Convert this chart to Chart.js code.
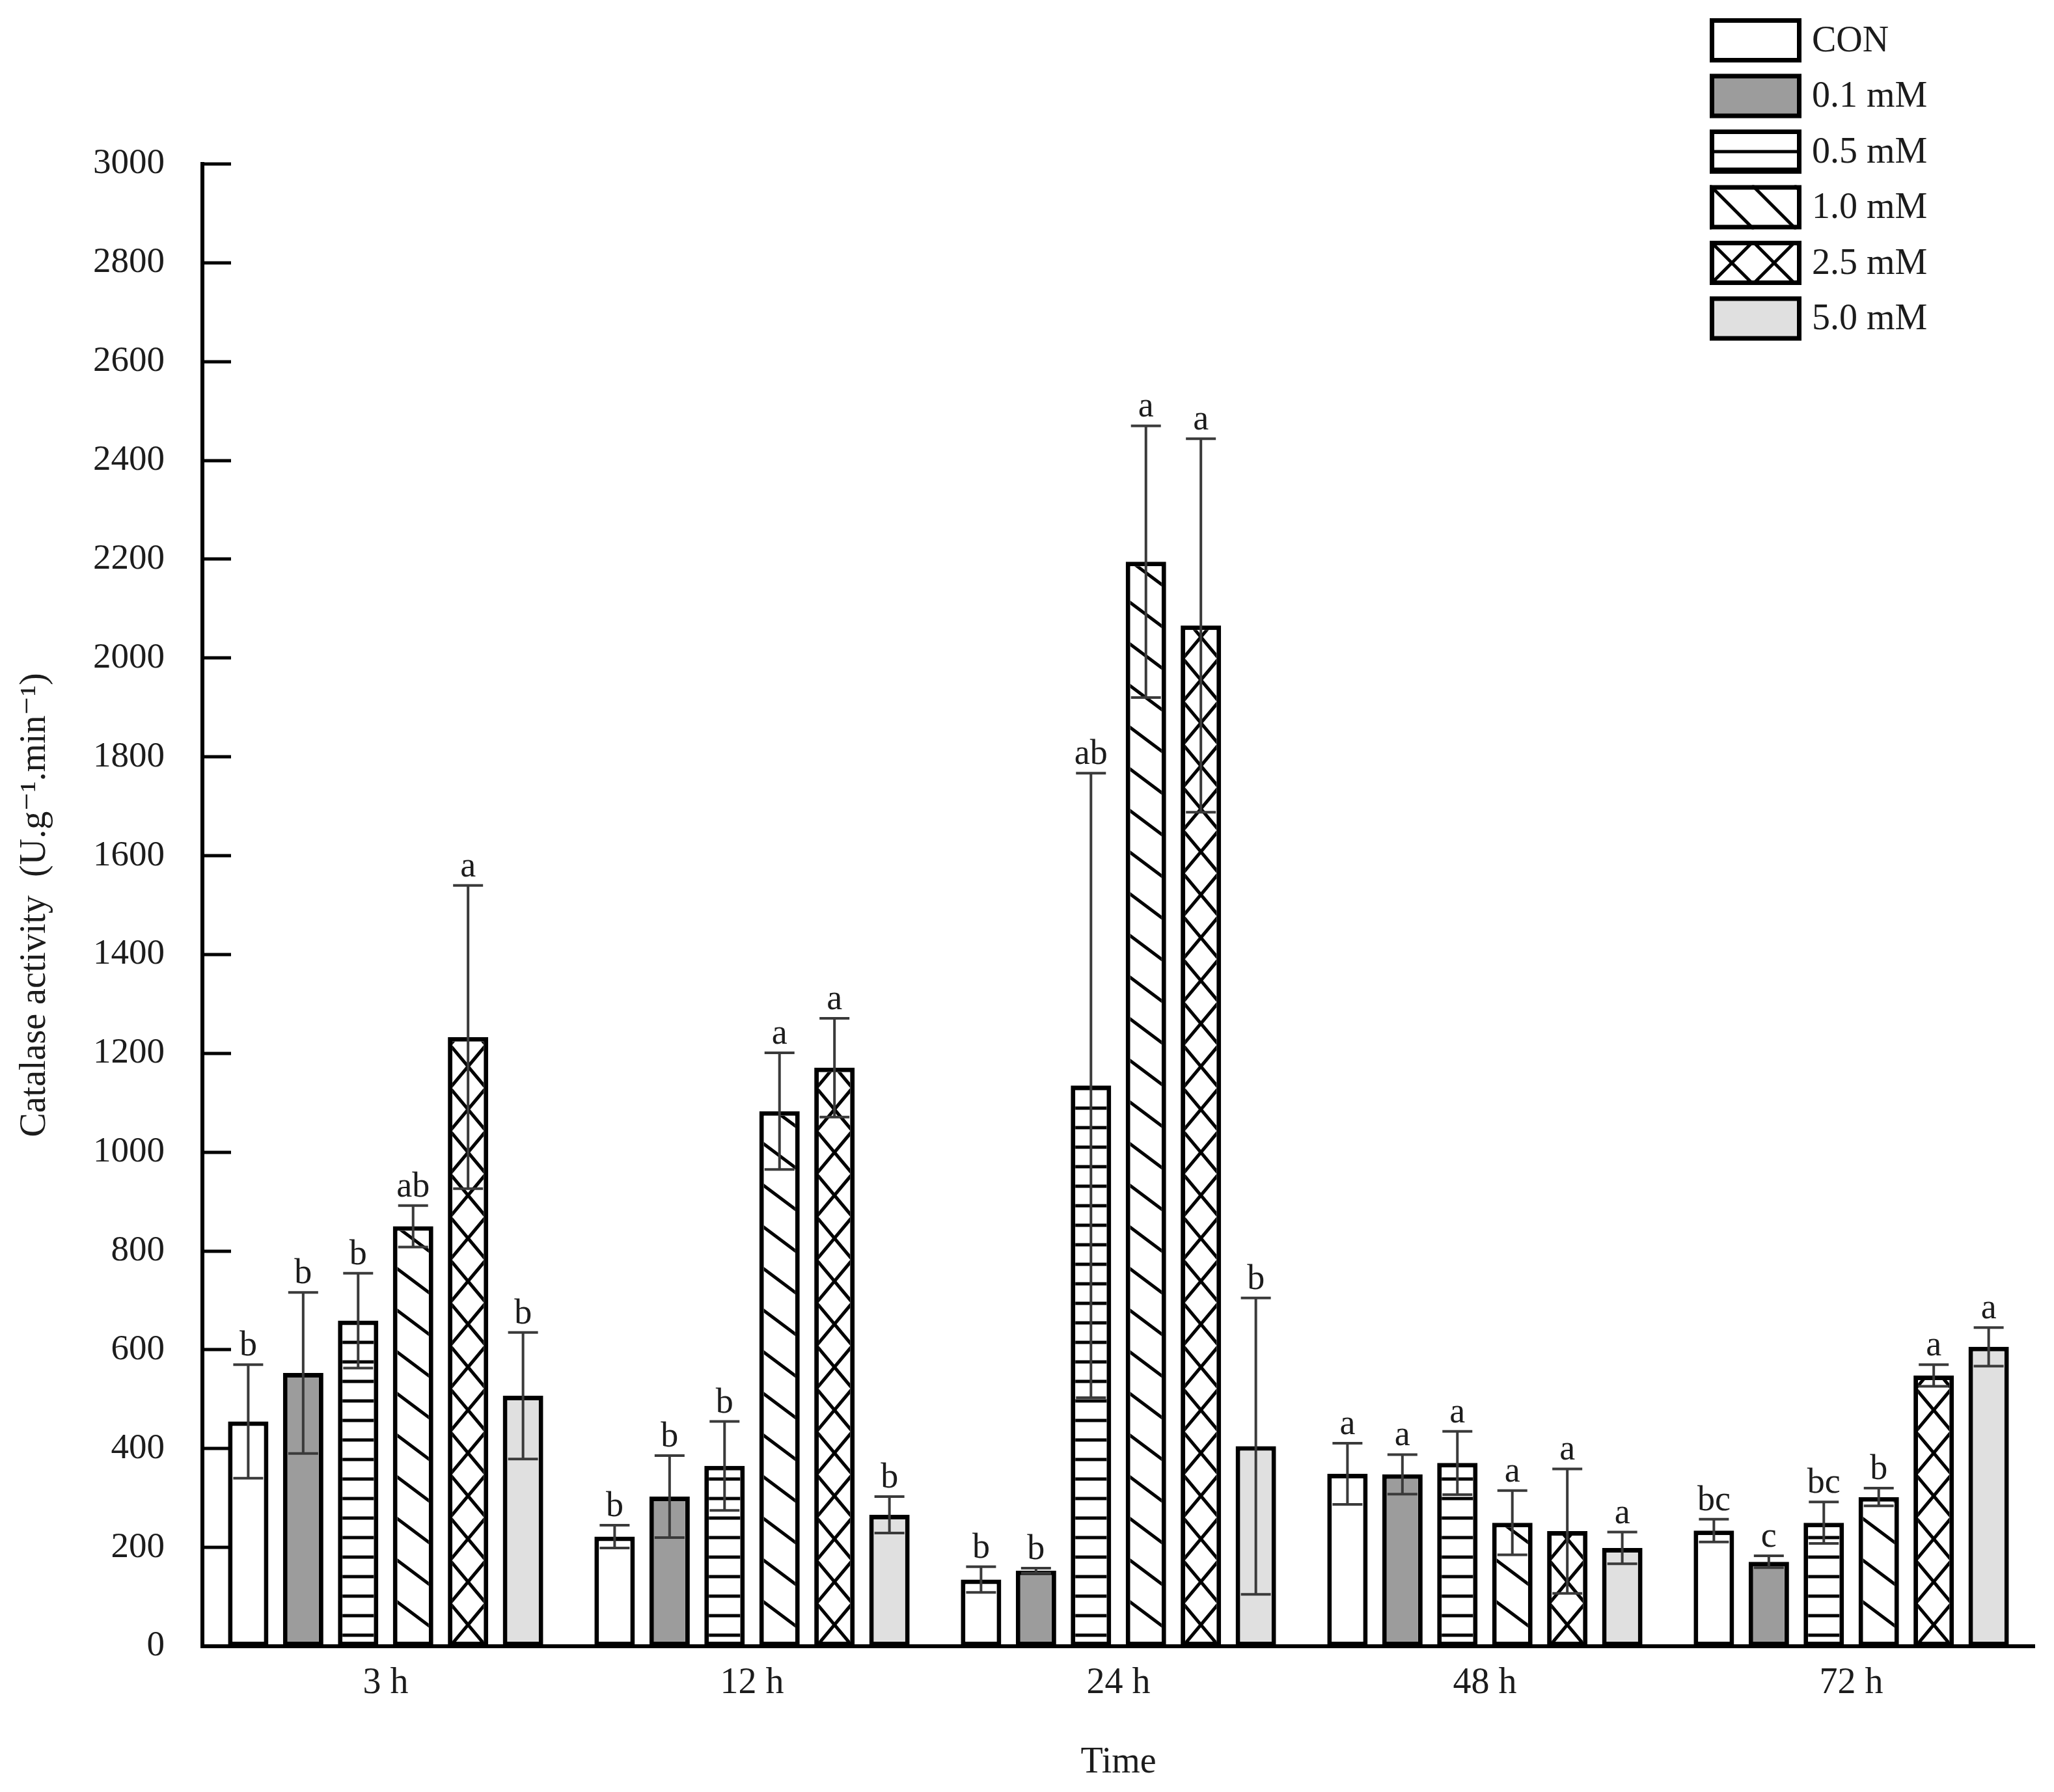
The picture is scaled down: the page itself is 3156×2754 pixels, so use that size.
<!DOCTYPE html>
<html><head><meta charset="utf-8">
<script src="https://cdn.jsdelivr.net/npm/chart.js@4.4.1/dist/chart.umd.min.js"></script>
<style>html,body{margin:0;padding:0;background:#fff;}</style>
</head><body>
<canvas id="c" width="3156" height="2754"></canvas>
<script>
// ---------- data ----------
const categories = ['3 h', '12 h', '24 h', '48 h', '72 h'];
const seriesNames = ['CON', '0.1 mM', '0.5 mM', '1.0 mM', '2.5 mM', '5.0 mM'];

const conValues  = [455, 222, 135, 349, 234];
const c01Values  = [553, 303, 153, 348, 171];
const c05Values  = [659, 365, 1135, 371, 250];
const c10Values  = [850, 1083, 2195, 250, 302];
const c25Values  = [1233, 1171, 2066, 233, 548];
const c50Values  = [507, 266, 405, 199, 606];

const conSD = [115, 23, 26, 62, 23];
const c01SD = [163, 83, 5, 40, 12];
const c05SD = [96, 90, 632, 64, 42];
const c10SD = [42, 118, 275, 65, 18];
const c25SD = [307, 100, 378, 126, 22];
const c50SD = [128, 37, 300, 32, 39];

const conLetters = ['b', 'b', 'b', 'a', 'bc'];
const c01Letters = ['b', 'b', 'b', 'a', 'c'];
const c05Letters = ['b', 'b', 'ab', 'a', 'bc'];
const c10Letters = ['ab', 'a', 'a', 'a', 'b'];
const c25Letters = ['a', 'a', 'a', 'a', 'a'];
const c50Letters = ['b', 'b', 'b', 'a', 'a'];

const yMin = 0, yMax = 3000, yStep = 200;

const valueArrays = [conValues, c01Values, c05Values, c10Values, c25Values, c50Values];
const sdArrays = [conSD, c01SD, c05SD, c10SD, c25SD, c50SD];
const letterArrays = [conLetters, c01Letters, c05Letters, c10Letters, c25Letters, c50Letters];

// ---------- styles ----------
const FONT = "'Liberation Serif', 'DejaVu Serif', serif";
const TEXT = '#1c1c1c';
const BORDER = 7;
const fills = ['#ffffff', '#9c9c9c', '#ffffff', '#ffffff', '#ffffff', '#e0e0e0'];
const hatchKinds = ['none', 'none', 'horiz', 'diag', 'cross', 'none'];

function line(ctx, x1, y1, x2, y2) {
  ctx.beginPath(); ctx.moveTo(x1, y1); ctx.lineTo(x2, y2); ctx.stroke();
}

function drawBarHatch(ctx, kind, L, R, top, base) {
  ctx.strokeStyle = '#000';
  ctx.lineWidth = 5;
  const w = R - L;
  if (kind === 'horiz') {
    const P = 30;
    for (let yy = base - 17; yy > top - 5; yy -= P) line(ctx, L, yy, R, yy);
  } else if (kind === 'diag') {
    const P = 64, s = 0.75;
    const y0 = base - 73;
    for (let k = -2; ; k--) {
      const ya = y0 + k * P;
      if (ya + s * w < top - P) break;
      line(ctx, L, ya, R, ya + s * w);
    }
    for (let k = -1; k <= 2; k++) {
      const ya = y0 + k * P;
      line(ctx, L, ya, R, ya + s * w);
    }
  } else if (kind === 'cross') {
    const P = 66;
    const xc = (L + R) / 2;
    const hw = w / 2 - BORDER / 2;
    const s = (P / 2) / hw;
    for (let k = -1; ; k++) {
      const yc = base - P / 2 - k * P;
      if (yc < top - 2 * P) break;
      line(ctx, xc - w, yc - s * w, xc + w, yc + s * w);
      line(ctx, xc - w, yc + s * w, xc + w, yc - s * w);
    }
  }
}

function drawLegendHatch(ctx, kind, L, T, W, H) {
  ctx.strokeStyle = '#000';
  ctx.lineWidth = 5;
  if (kind === 'horiz') {
    line(ctx, L, T + H / 2, L + W, T + H / 2);
    ctx.lineWidth = 9;
    line(ctx, L, T + H - 5, L + W, T + H - 5);
  } else if (kind === 'diag') {
    for (let k = -1; k < 4; k++) {
      const x0 = L + k * 65;
      line(ctx, x0, T, x0 + H, T + H);
    }
  } else if (kind === 'cross') {
    for (let k = -1; k < 4; k++) {
      const x0 = L + k * 65;
      line(ctx, x0, T, x0 + H, T + H);
      line(ctx, x0, T + H, x0 + H, T);
    }
  }
}

const overlayPlugin = {
  id: 'overlay',
  beforeDatasetsDraw(chart) {
    const ctx = chart.ctx, ys = chart.scales.y, ca = chart.chartArea;
    ctx.save();
    ctx.strokeStyle = '#000';
    ctx.lineWidth = 5;
    ys.ticks.forEach(t => {
      const py = Math.round(ys.getPixelForValue(t.value));
      line(ctx, ca.left, py, ca.left + 44, py);
    });
    ctx.restore();
  },
  afterDatasetsDraw(chart) {
    const ctx = chart.ctx, ys = chart.scales.y;
    ctx.save();
    chart.data.datasets.forEach((ds, di) => {
      const meta = chart.getDatasetMeta(di);
      meta.data.forEach(bar => {
        const p = bar.getProps(['x', 'y', 'base', 'width'], true);
        const L = p.x - p.width / 2, R = p.x + p.width / 2;
        ctx.save();
        ctx.beginPath();
        ctx.rect(L + BORDER, p.y + BORDER, p.width - 2 * BORDER, p.base - p.y - 2 * BORDER);
        ctx.clip();
        drawBarHatch(ctx, hatchKinds[di], L, R, p.y, p.base);
        ctx.restore();
      });
    });
    chart.data.datasets.forEach((ds, di) => {
      const meta = chart.getDatasetMeta(di);
      meta.data.forEach((bar, i) => {
        const v = valueArrays[di][i], sd = sdArrays[di][i];
        const x = bar.x;
        const yHi = ys.getPixelForValue(v + sd), yLo = ys.getPixelForValue(v - sd);
        ctx.strokeStyle = '#3a3a3a';
        ctx.lineWidth = 4;
        line(ctx, x, yHi, x, yLo);
        line(ctx, x - 23, yHi, x + 23, yHi);
        line(ctx, x - 23, yLo, x + 23, yLo);
        ctx.fillStyle = TEXT;
        ctx.font = '54px ' + FONT;
        ctx.textAlign = 'center';
        ctx.textBaseline = 'alphabetic';
        ctx.fillText(letterArrays[di][i], x, yHi - 14);
      });
    });
    ctx.restore();
  },
  afterDraw(chart) {
    const ctx = chart.ctx;
    ctx.save();
    const L = 2627, W = 141, H = 68;
    seriesNames.forEach((name, i) => {
      const T = 28 + i * 85.5;
      ctx.fillStyle = fills[i];
      ctx.fillRect(L, T, W, H);
      ctx.save();
      ctx.beginPath(); ctx.rect(L, T, W, H); ctx.clip();
      drawLegendHatch(ctx, hatchKinds[i], L, T, W, H);
      ctx.restore();
      ctx.strokeStyle = '#000';
      ctx.lineWidth = 7;
      ctx.strokeRect(L + 3.5, T + 3.5, W - 7, H - 7);
      ctx.fillStyle = TEXT;
      ctx.font = '56px ' + FONT;
      ctx.textAlign = 'left';
      ctx.textBaseline = 'middle';
      ctx.fillText(name, L + W + 16, T + H / 2 + 2);
    });
    ctx.restore();
  }
};

const datasets = seriesNames.map((name, i) => ({
  label: name,
  data: valueArrays[i],
  backgroundColor: fills[i],
  borderColor: '#000',
  borderWidth: BORDER,
  borderSkipped: false,
  categoryPercentage: 0.9,
  barPercentage: 0.735
}));

new Chart(document.getElementById('c'), {
  type: 'bar',
  data: { labels: categories, datasets },
  options: {
    responsive: false,
    animation: false,
    devicePixelRatio: 1,
    layout: { padding: { left: 0, right: 30, top: 252, bottom: 0 } },
    plugins: { legend: { display: false }, tooltip: { enabled: false } },
    scales: {
      x: {
        grid: { display: false, drawTicks: false },
        border: { display: true, color: '#000', width: 6 },
        ticks: { color: TEXT, font: { family: FONT, size: 56 }, padding: 24 },
        title: { display: true, text: 'Time', color: TEXT, font: { family: FONT, size: 56 }, padding: { top: 0, bottom: 11 } },
        afterFit(s) { s.height = 224; }
      },
      y: {
        min: yMin, max: yMax,
        grid: { display: false, drawTicks: false },
        border: { display: true, color: '#000', width: 6 },
        ticks: { stepSize: yStep, color: TEXT, font: { family: FONT, size: 55 }, padding: 58,
                 callback: v => String(v) },
        title: { display: true, text: 'Catalase activity  (U.g\u207B\u00B9.min\u207B\u00B9)', color: TEXT, font: { family: FONT, size: 56 }, padding: { top: 21, bottom: 0 } },
        afterFit(s) { s.width = 311; }
      }
    }
  },
  plugins: [overlayPlugin]
});
</script>
</body></html>
